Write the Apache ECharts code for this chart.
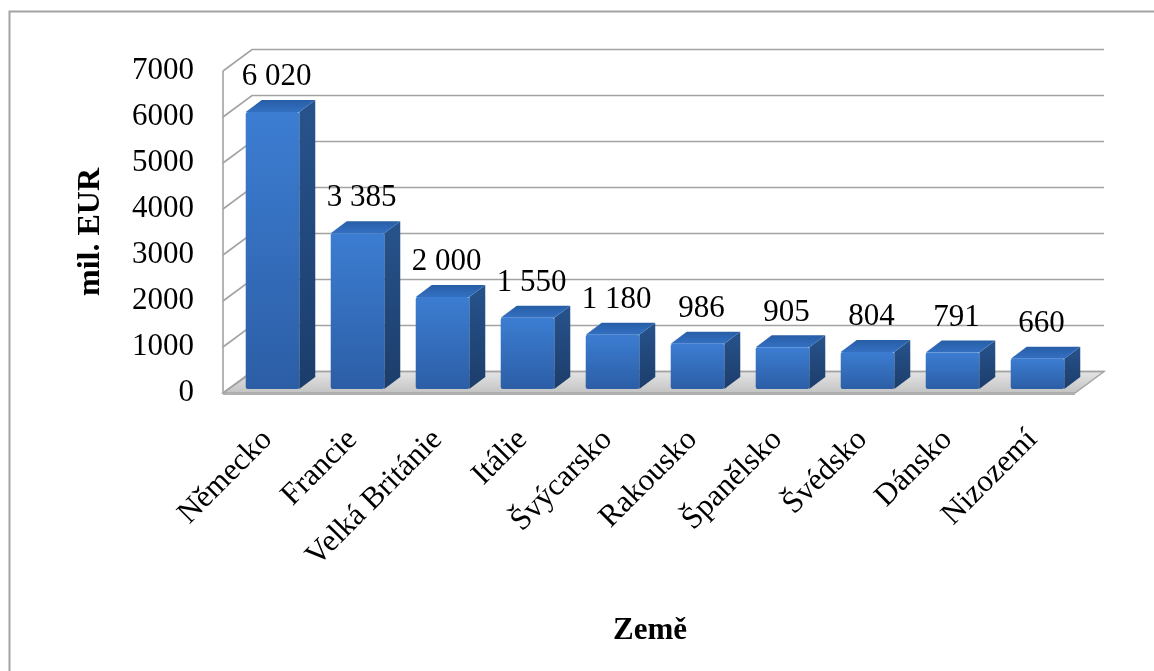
<!DOCTYPE html>
<html>
<head>
<meta charset="utf-8">
<title>Země – mil. EUR</title>
<script src="https://cdn.jsdelivr.net/npm/echarts@6/dist/echarts.min.js"></script>
<style>
  html, body { margin: 0; padding: 0; background: #ffffff; }
  #chart { width: 1154px; height: 671px; }
</style>
</head>
<body>
<div id="chart"></div>
<script>
// Countries and amounts (mil. EUR)
const categories = ['Německo', 'Francie', 'Velká Británie', 'Itálie', 'Švýcarsko',
                    'Rakousko', 'Španělsko', 'Švédsko', 'Dánsko', 'Nizozemí'];
const values = [6020, 3385, 2000, 1550, 1180, 986, 905, 804, 791, 660];
// Value axis ticks (back-wall gridlines)
const yTicks = [0, 1000, 2000, 3000, 4000, 5000, 6000, 7000];

const FONT = '"Liberation Serif", "Times New Roman", serif';
// Pseudo-3D depth of the plot box and of the bars (pixels)
const WALL_DX = 29, WALL_DY = -21.5;
const BAR_SHIFT_X = 5, BAR_SHIFT_Y = -4;
const BAR_DX = 16, BAR_DY = -12;

// Value labels use a space as thousands separator
function fmt(v) {
  return String(v).replace(/\B(?=(\d{3})+(?!\d))/g, ' ');
}

const chart = echarts.init(document.getElementById('chart'), null, { renderer: 'canvas' });

const option = {
  backgroundColor: '#ffffff',
  animation: false,
  graphic: [{
    type: 'polyline',
    shape: { points: [[9.5, 671], [9.5, 11.5], [1154, 11.5]] },
    style: { stroke: '#a3a3a3', lineWidth: 2, fill: null },
    z: 0
  }],
  grid: { left: 225, right: 79, top: 71, bottom: 278, containLabel: false },
  xAxis: {
    type: 'category',
    data: categories,
    axisLine: { show: false },
    axisTick: { show: false },
    axisLabel: {
      interval: 0,
      rotate: 45,
      margin: 42,
      fontFamily: FONT,
      fontSize: 31,
      color: '#000000'
    },
    name: 'Země',
    nameLocation: 'middle',
    nameGap: 222,
    nameTextStyle: { fontFamily: FONT, fontSize: 31, fontWeight: 'bold', color: '#000000' }
  },
  yAxis: {
    type: 'value',
    min: 0,
    max: 7000,
    interval: 1000,
    axisLine: { show: false },
    axisTick: { show: false },
    splitLine: { show: false },
    axisLabel: {
      margin: 31,
      fontFamily: FONT,
      fontSize: 31,
      color: '#000000',
      formatter: function (v) { return String(v); }
    },
    name: 'mil. EUR',
    nameLocation: 'middle',
    nameRotate: 90,
    nameGap: 118,
    nameTextStyle: { fontFamily: FONT, fontSize: 32, fontWeight: 'bold', color: '#000000' }
  },
  series: [
    // Floor of the plot box
    {
      type: 'custom',
      silent: true,
      z: 1,
      data: [[0, 0]],
      renderItem: function (params, api) {
        const cs = params.coordSys;
        const y0 = api.coord([0, 0])[1];
        const xL = cs.x, xR = cs.x + cs.width;
        return {
          type: 'group',
          children: [{
            type: 'polygon',
            shape: { points: [[xL - 2, y0], [xR, y0], [xR + WALL_DX, y0 + WALL_DY], [xL + WALL_DX, y0 + WALL_DY]] },
            style: {
              fill: new echarts.graphic.LinearGradient(0, 0, 0, 1, [
                { offset: 0, color: '#e6e6e6' },
                { offset: 1, color: '#c2c2c2' }
              ]),
              stroke: '#a6a6a6',
              lineWidth: 1.5
            }
          }, {
            type: 'line',
            shape: { x1: xL - 2, y1: y0 + 1, x2: xR, y2: y0 + 1 },
            style: { stroke: '#b0b0b0', lineWidth: 2 }
          }]
        };
      }
    },
    // Gridlines on the back and left walls
    {
      type: 'custom',
      silent: true,
      z: 2,
      data: yTicks.map(function (t) { return [0, t]; }),
      renderItem: function (params, api) {
        const cs = params.coordSys;
        const y = api.coord([0, api.value(1)])[1];
        const xL = cs.x - 2, xR = cs.x + cs.width;
        return {
          type: 'polyline',
          shape: { points: [[xL, y], [xL + WALL_DX, y + WALL_DY], [xR + WALL_DX, y + WALL_DY]] },
          style: { stroke: '#a3a3a3', lineWidth: 1.6, fill: null }
        };
      }
    },
    // Left wall front edge
    {
      type: 'custom',
      silent: true,
      z: 2,
      data: [[0, 0]],
      renderItem: function (params, api) {
        const cs = params.coordSys;
        const yB = api.coord([0, yTicks[0]])[1];
        const yT = api.coord([0, yTicks[yTicks.length - 1]])[1];
        return {
          type: 'line',
          shape: { x1: cs.x - 2, y1: yB, x2: cs.x - 2, y2: yT },
          style: { stroke: '#a3a3a3', lineWidth: 1.6 }
        };
      }
    },
    // 3D-looking bars with value labels
    {
      type: 'custom',
      z: 5,
      data: values.map(function (v, i) { return [i, v]; }),
      renderItem: function (params, api) {
        const i = api.value(0), v = api.value(1);
        const base = api.coord([i, 0]);
        const top = api.coord([i, v]);
        const w = api.size([1, 0])[0] * 0.63;
        const xc = base[0] + BAR_SHIFT_X;
        const x0 = xc - w / 2, x1 = xc + w / 2;
        const yb = base[1] + BAR_SHIFT_Y, yt = top[1] + BAR_SHIFT_Y;
        return {
          type: 'group',
          children: [
            { // side face
              type: 'polygon',
              shape: { points: [[x1, yb], [x1, yt], [x1 + BAR_DX, yt + BAR_DY], [x1 + BAR_DX, yb + BAR_DY]] },
              style: {
                fill: new echarts.graphic.LinearGradient(0, 0, 0, 1, [
                  { offset: 0, color: '#27538c' },
                  { offset: 1, color: '#1c3d6b' }
                ])
              }
            },
            { // top face
              type: 'polygon',
              shape: { points: [[x0, yt], [x1, yt], [x1 + BAR_DX, yt + BAR_DY], [x0 + BAR_DX, yt + BAR_DY]] },
              style: {
                fill: new echarts.graphic.LinearGradient(0, 1, 0, 0, [
                  { offset: 0, color: '#3470c2' },
                  { offset: 1, color: '#275ea6' }
                ])
              }
            },
            { // front face
              type: 'rect',
              shape: { x: x0, y: yt, width: w, height: yb - yt, r: 2 },
              style: {
                fill: new echarts.graphic.LinearGradient(0, 0, 0, 1, [
                  { offset: 0, color: '#3c7dd2' },
                  { offset: 1, color: '#2c5ea6' }
                ])
              }
            },
            { // value label
              type: 'text',
              x: xc + 4,
              y: yt - 35,
              style: {
                text: fmt(v),
                fontFamily: FONT,
                fontSize: 31,
                fill: '#000000',
                align: 'center',
                verticalAlign: 'middle'
              }
            }
          ]
        };
      }
    }
  ]
};

chart.setOption(option);
</script>
</body>
</html>
